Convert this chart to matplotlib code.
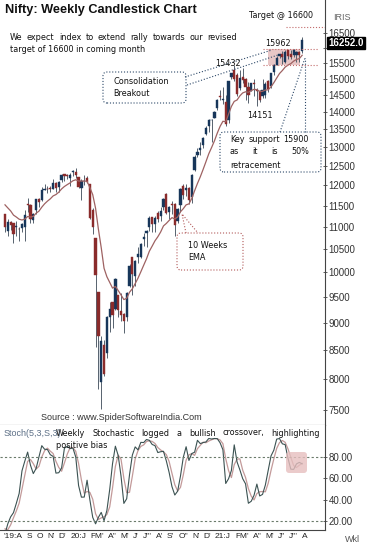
import numpy as np
import pandas as pd
import matplotlib
matplotlib.use('Agg')
import matplotlib.pyplot as plt
from matplotlib import font_manager as fm
from matplotlib.patches import FancyBboxPatch, Rectangle, Polygon
from matplotlib.lines import Line2D
from matplotlib.transforms import IdentityTransform
from matplotlib.ticker import FixedLocator, NullLocator, FuncFormatter

W, H = 369, 551

# pick a narrow face if one is installed, otherwise shrink Liberation Sans
names = {f.name for f in fm.fontManager.ttflist}
cond = [f for f in fm.fontManager.ttflist if f.stretch in ('condensed', 'semi-condensed')]
if 'Liberation Sans Narrow' in names:
    NARROW, NS = dict(family='Liberation Sans Narrow'), 7.4
elif any(f.name == 'DejaVu Sans' for f in cond):
    NARROW, NS = dict(family='DejaVu Sans', fontstretch='condensed'), 6.5
else:
    NARROW, NS = dict(family='Liberation Sans'), 6.6
PLAIN = dict(family=['Liberation Sans', 'DejaVu Sans'])

# weekly Nifty candles, week ending 2 Aug 2019 .. 6 Aug 2021
opens = [
    11290, 10896, 11113, 11095, 11000, 10960, 10981, 11000, 11542, 11510,
    11155, 11390, 11650, 11628, 11886, 11900, 11919, 11900, 12048, 11950,
    12133, 12273, 12247, 12170, 12330, 12328, 12197, 11939, 12102, 12190,
    12022, 11387, 10742, 9588, 7945, 8585, 8446, 9103, 9390, 9259,
    9533, 9226, 9158, 9099, 9726, 10327, 9919, 10319, 10323, 10723,
    10852, 10999, 11225, 11058, 11325, 11248, 11475, 11777, 11350, 11540,
    11532, 11140, 11504, 11973, 11873, 11937, 11697, 12400, 12780, 12927,
    13063, 13356, 13571, 13741, 13815, 14104, 14474, 14350, 14290, 13758,
    15064, 15257, 15100, 14702, 15064, 14996, 14736, 14628, 14837, 14644,
    14617, 14449, 14481, 14928, 14756, 15211, 15437, 15725, 15791, 15525,
    15915, 15793, 15766, 15755, 15852, 15885]
highs = [
    11300, 11181, 11146, 11097, 11142, 10996, 11085, 11382, 11695, 11530,
    11330, 11670, 11680, 11945, 12034, 11975, 11990, 12158, 12070, 12100,
    12294, 12287, 12294, 12311, 12389, 12430, 12213, 12160, 12247, 12246,
    12030, 11433, 10751, 9588, 8749, 8678, 9131, 9390, 9390, 9890,
    9533, 9584, 9178, 9598, 10180, 10328, 10272, 10553, 10632, 10847,
    10933, 11240, 11225, 11256, 11373, 11460, 11686, 11794, 11493, 11618,
    11556, 11430, 11939, 12025, 12018, 11960, 12280, 12770, 12964, 13145,
    13280, 13580, 13773, 13777, 14024, 14367, 14653, 14753, 14491, 14938,
    15168, 15432, 15176, 15274, 15336, 15012, 14878, 14877, 14984, 14697,
    14652, 14973, 14890, 14967, 15190, 15469, 15733, 15800, 15901, 15915,
    15915, 15915, 15962, 15881, 15899, 16350]
lows = [
    10882, 10782, 10924, 10637, 10792, 10670, 10890, 10670, 11346, 11090,
    11090, 11310, 11460, 11600, 11880, 11800, 11840, 11900, 11830, 11832,
    12090, 12118, 12150, 11975, 12233, 12170, 11918, 11633, 12000, 12050,
    11175, 10827, 8555, 7832, 7511, 8055, 8360, 8821, 8909, 9250,
    9117, 9040, 8806, 9024, 9706, 9544, 9727, 10194, 10299, 10562,
    10555, 10895, 10882, 10882, 11111, 11144, 11400, 11303, 11185, 11310,
    10790, 11087, 11347, 11661, 11738, 11535, 11560, 12370, 12730, 12790,
    12963, 13320, 13401, 13131, 13810, 14039, 14357, 14222, 13596, 13661,
    14978, 14935, 14467, 14636, 14862, 14350, 14264, 14617, 14459, 14151,
    14273, 14416, 14417, 14591, 14696, 15127, 15417, 15650, 15450, 15505,
    15635, 15632, 15708, 15514, 15514, 15834]
closes = [
    10997, 11109, 11048, 10829, 11023, 10946, 11075, 11274, 11512, 11174,
    11305, 11662, 11583, 11890, 11908, 11895, 11914, 12056, 11921, 12087,
    12272, 12245, 12226, 12257, 12352, 12248, 11962, 12098, 12113, 12080,
    11202, 10989, 9955, 8745, 8660, 8084, 9112, 9267, 9154, 9860,
    9252, 9137, 9039, 9580, 10142, 9973, 10244, 10383, 10608, 10768,
    10902, 11194, 11073, 11214, 11178, 11371, 11647, 11333, 11464, 11504,
    11050, 11417, 11914, 11762, 11930, 11642, 12264, 12720, 12859, 12969,
    13258, 13514, 13761, 13749, 13982, 14347, 14433, 14372, 13635, 14924,
    15163, 14982, 14529, 15031, 14956, 14744, 14507, 14867, 14835, 14618,
    14341, 14631, 14823, 14677, 15175, 15435, 15670, 15799, 15683, 15860,
    15722, 15689, 15923, 15856, 15763, 16252]

# weeks before the first candle (Jun-Jul 2019), only feed the EMA / stochastic
warm_high = [12103, 11975, 11850, 11871, 11981, 11800, 11700, 11500]
warm_low = [11770, 11800, 11625, 11651, 11797, 11461, 11400, 11210]
warm_close = [11871, 11823, 11724, 11789, 11811, 11552, 11419, 11284]

price_ticks = list(range(7500, 17000, 500))
stoch_ticks = [20, 40, 60, 80]
month_labels = ["'19:A", "S", "O", "N'", "D'", "20:J", "FM'", "A''", "M'", "J'",
                "J'''", "A'", "S'", "O''", "N'", "D'", "21:J", "FM'", "A''",
                "M'", "J''", "J'''", "A"]

n_warm = len(warm_close)
hi_all = pd.Series(warm_high + highs)
lo_all = pd.Series(warm_low + lows)
cl_all = pd.Series(warm_close + closes)
ema = cl_all.ewm(span=10, adjust=False).mean().values[n_warm:]
ll5 = lo_all.rolling(5).min()
hh5 = hi_all.rolling(5).max()
fast_k = (cl_all - ll5) / (hh5 - ll5) * 100
slow_k = fast_k.rolling(3).mean()
slow_d = slow_k.rolling(3).mean()
slow_k = slow_k.values[n_warm:]
slow_d = slow_d.values[n_warm:]

x0_px, step_px = 5.0, 2.83


def ix(px):
    return (px - x0_px) / step_px


o = np.array(opens, float)
c = np.array(closes, float)
hi = np.array(highs, float)
lo = np.array(lows, float)
x = np.arange(len(c))
up = c >= o

fig = plt.figure(figsize=(W / 100, H / 100), dpi=100)
ax = fig.add_axes([0, 1 - 425 / H, 325 / W, 425 / H])
ax2 = fig.add_axes([0, 1 - 530 / H, 325 / W, 105 / H])

# ---- price panel
ax.set_yscale('log')
ax.set_ylim(7266, 17680)
ax.set_xlim(ix(0), ix(325))
ax.vlines(x, lo, hi, color='#56626e', lw=0.7, zorder=2)
body_lo = np.minimum(o, c)
body_h = np.maximum(np.abs(c - o), 12)
ax.bar(x[up], body_h[up], bottom=body_lo[up], width=0.8, color='#17365a',
       ec='#17365a', lw=0.3, zorder=3)
ax.bar(x[~up], body_h[~up], bottom=body_lo[~up], width=0.8, color='#8a2b2b',
       ec='#8a2b2b', lw=0.3, zorder=3)
ax.plot(x, ema, color='#9e6262', lw=0.9, zorder=4)

# consolidation zone + target
ax.add_patch(Rectangle((ix(268), 15432), ix(300) - ix(268), 15962 - 15432,
                       facecolor='#e3b9b9', alpha=0.8, lw=0, zorder=1))
for lvl in (15962, 15432):
    ax.plot([ix(263), ix(318)], [lvl, lvl], color='#c26b6b', lw=0.8, ls=':', zorder=5)
ax.plot([ix(286), ix(325)], [16700, 16700], color='#c26b6b', lw=0.8, ls=':', zorder=5)

ax.yaxis.set_major_locator(FixedLocator(price_ticks))
ax.yaxis.set_minor_locator(NullLocator())
ax.yaxis.set_major_formatter(FuncFormatter(lambda v, p: '' if v == 16000 else '%d' % v))
ax.yaxis.tick_right()
ax.tick_params(axis='y', direction='inout', length=3, width=0.6, color='#444',
               labelsize=7, labelcolor='#333', pad=1)
ax.set_xticks([])
for s in ('left', 'top'):
    ax.spines[s].set_visible(False)
ax.spines['right'].set_color('#444')
ax.spines['bottom'].set_color('#444')
for t in ax.get_yticklabels():
    t.set_family(PLAIN['family'])

# ---- stochastic panel
ax2.set_xlim(ix(0), ix(325))
ax2.set_ylim(11.5, 110)
ax2.plot(x, slow_d, color='#c39a9a', lw=0.9)
ax2.plot(x, slow_k, color='#3b5252', lw=0.8)
for lvl in (80, 20):
    ax2.axhline(lvl, color='#6a7a6a', lw=0.8, ls=(0, (2, 2)))
ax2.set_yticks(stoch_ticks)
ax2.yaxis.set_major_formatter(FuncFormatter(lambda v, p: '%.2f' % v))
ax2.yaxis.tick_right()
ax2.tick_params(axis='y', direction='inout', length=3, width=0.6, color='#444',
                labelsize=7, labelcolor='#333', pad=1)
ax2.set_xticks([])
for t in ax2.get_yticklabels():
    t.set_family(PLAIN['family'])
for s in ('left', 'top'):
    ax2.spines[s].set_visible(False)
ax2.spines['right'].set_color('#444')
ax2.spines['bottom'].set_color('#444')

# ---- annotations in pixel space
pix = IdentityTransform()


def txt(xp, yp, s, **kw):
    kw.setdefault('va', 'center')
    return fig.text(xp, H - yp, s, transform=pix, **kw)


def justify(words, xa, xb, yp, **kw):
    r = fig.canvas.get_renderer()
    ts = [txt(xa, yp, w, **kw) for w in words]
    ws = [t.get_window_extent(r).width for t in ts]
    gap = (xb - xa - sum(ws)) / (len(words) - 1)
    xp = xa
    for t, w in zip(ts, ws):
        t.set_position((xp, H - yp))
        xp += w + gap


def box(xa, ya, xb, yb, ec, fc='none'):
    fig.add_artist(FancyBboxPatch((xa, H - yb), xb - xa, yb - ya,
                                  boxstyle='round,pad=0,rounding_size=4',
                                  transform=pix, ec=ec, fc=fc, lw=0.8, ls=':'))


def dline(xs, ys, color):
    fig.add_artist(Line2D(xs, [H - v for v in ys], transform=pix,
                          color=color, lw=0.8, ls=':'))


note = dict(fontsize=NS, color='#111', **NARROW)
txt(5, 10, 'Nifty: Weekly Candlestick Chart', fontsize=9.2, fontweight='bold',
    color='#111', **PLAIN)
justify('We expect index to extend rally towards our revised'.split(), 10, 237, 37, **note)
txt(10, 50, 'target of 16600 in coming month', **note)
txt(249, 15, 'Target @ 16600', **note)
txt(333, 17, 'IRIS', fontsize=6.5, color='#666', **PLAIN)
txt(328, 43, '16252.0', fontsize=7, color='white', fontweight='bold',
    bbox=dict(boxstyle='square,pad=0.12', fc='black', ec='black'), **PLAIN)
txt(278, 43, '15962', ha='center', **note)
txt(228, 63, '15432', ha='center', **note)
txt(260, 115, '14151', ha='center', **note)

# consolidation breakout callout
box(103, 72, 186, 103, '#2c4868')
txt(113, 81, 'Consolidation', **note)
txt(113, 93, 'Breakout', **note)
dline([185, 272], [77, 50], '#2c4868')
dline([187, 278], [85, 55], '#2c4868')

# key support callout
box(220, 132, 321, 172, '#2c4868')
justify(['Key', 'support', '15900'], 230, 309, 139, **note)
justify(['as', 'it', 'is', '50%'], 230, 309, 152, **note)
txt(230, 165, 'retracement', **note)
dline([280, 305], [132, 58], '#2c4868')
dline([305, 305], [132, 58], '#2c4868')

# EMA callout
box(177, 233, 243, 270, '#b25a5a')
fig.add_artist(Polygon([(186, H - 233), (182, H - 214), (198, H - 233)], closed=False,
                       transform=pix, fc='none', ec='#b25a5a', lw=0.8, ls=':'))
txt(188, 245, '10 Weeks', **note)
txt(188, 258, 'EMA', **note)

txt(41, 418, 'Source : www.SpiderSoftwareIndia.Com', fontsize=6.5, color='#333', **PLAIN)

# stochastic texts
txt(4, 433, 'Stoch(5,3,S,3)', fontsize=6.5, color='#5c6f86', **PLAIN)
justify('Weekly Stochastic logged a bullish crossover, highlighting'.split(), 56, 320, 433, **note)
txt(56, 445, 'positive bias', **note)
fig.add_artist(FancyBboxPatch((286, H - 473), 21, 21, boxstyle='round,pad=0,rounding_size=3',
                              transform=pix, fc='#e6bfbf', ec='none', alpha=0.8, zorder=0.5))

# month labels of the weekly axis
justify(month_labels, 4, 308, 537, fontsize=6, color='#222', **PLAIN)
txt(345, 540, 'Wkl', fontsize=6.5, color='#555', **PLAIN)

fig.savefig('out.png', dpi=100)
